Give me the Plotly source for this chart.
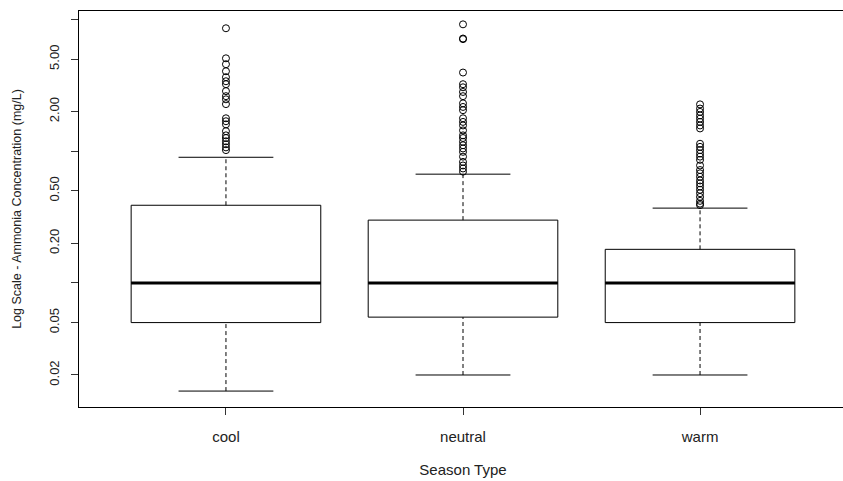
import plotly.graph_objects as go

# Ammonia concentration (mg/L) summary by season type
seasons = ["cool", "neutral", "warm"]
positions = [1, 2, 3]
q1 = [0.050, 0.055, 0.050]
median = [0.100, 0.100, 0.100]
q3 = [0.389, 0.300, 0.180]
whisker_low = [0.0151, 0.020, 0.020]
whisker_high = [0.90, 0.67, 0.37]

outliers_cool = [8.59, 5.08, 4.58, 4.05, 3.65, 3.40, 3.23, 2.86, 2.62, 2.48,
                 2.28, 1.78, 1.69, 1.60, 1.42, 1.32, 1.26, 1.19, 1.13, 1.07, 1.02]
outliers_neutral = [9.2, 7.18, 7.10, 3.96, 3.23, 3.06, 2.82, 2.62, 2.31, 2.17,
                    2.05, 1.78, 1.67, 1.57, 1.44, 1.32, 1.26, 1.18, 1.11, 1.05,
                    0.99, 0.91, 0.83, 0.78, 0.74, 0.70]
outliers_warm = [2.27, 2.11, 1.99, 1.87, 1.77, 1.67, 1.57, 1.49, 1.14, 1.08,
                 1.02, 0.96, 0.91, 0.86, 0.78, 0.72, 0.68, 0.64, 0.60, 0.57,
                 0.54, 0.51, 0.48, 0.45, 0.42, 0.40, 0.39]
outliers = [outliers_cool, outliers_neutral, outliers_warm]

y_tickvals = [0.02, 0.05, 0.1, 0.2, 0.5, 1, 2, 5, 10]
y_ticktext = ["0.02", "0.05", "", "0.20", "0.50", "", "2.00", "5.00", ""]

BOX_W = 0.8
CAP_W = 0.4
INK = "#000000"
TEXT = "#222222"

fig = go.Figure()

for i, pos in enumerate(positions):
    # box body (no plotly whiskers; those are drawn dashed below)
    fig.add_trace(go.Box(
        x=[pos], q1=[q1[i]], median=[median[i]], q3=[q3[i]],
        lowerfence=[q1[i]], upperfence=[q3[i]],
        width=BOX_W, whiskerwidth=0, fillcolor="white",
        line=dict(color=INK, width=1), boxpoints=False,
        hoverinfo="skip", showlegend=False,
    ))
    # thick median bar
    fig.add_trace(go.Scatter(
        x=[pos - BOX_W / 2, pos + BOX_W / 2], y=[median[i], median[i]],
        mode="lines", line=dict(color=INK, width=3),
        hoverinfo="skip", showlegend=False,
    ))
    # dashed whiskers
    for lo, hi in ((whisker_low[i], q1[i]), (q3[i], whisker_high[i])):
        fig.add_trace(go.Scatter(
            x=[pos, pos], y=[lo, hi], mode="lines",
            line=dict(color=INK, width=1, dash="4px,3px"),
            hoverinfo="skip", showlegend=False,
        ))
    # whisker caps
    for w in (whisker_low[i], whisker_high[i]):
        fig.add_trace(go.Scatter(
            x=[pos - CAP_W / 2, pos + CAP_W / 2], y=[w, w], mode="lines",
            line=dict(color=INK, width=1),
            hoverinfo="skip", showlegend=False,
        ))
    # outlying observations
    fig.add_trace(go.Scatter(
        x=[pos] * len(outliers[i]), y=outliers[i], mode="markers",
        marker=dict(symbol="circle-open", size=7, color=INK,
                    line=dict(color=INK, width=1)),
        showlegend=False,
    ))

fig.update_layout(
    width=847, height=481,
    margin=dict(l=79, r=0, t=11, b=74),
    plot_bgcolor="white", paper_bgcolor="white",
    font=dict(family="Liberation Sans, Arial, sans-serif", size=12, color=TEXT),
)

fig.update_xaxes(
    range=[0.38, 3.62],
    tickmode="array", tickvals=positions, ticktext=seasons,
    tickfont=dict(size=15),
    ticks="outside", ticklen=7, tickcolor="#333333", tickwidth=1,
    ticklabelstandoff=9,
    showline=True, linecolor=INK, linewidth=1, mirror=True,
    showgrid=False, zeroline=False,
    title=dict(text="Season Type", standoff=20, font=dict(size=15, color=TEXT)),
)

fig.update_yaxes(
    type="log", range=[-1.942, 1.065],
    tickmode="array", tickvals=y_tickvals, ticktext=y_ticktext,
    tickangle=-90, tickfont=dict(size=13),
    ticks="outside", ticklen=7, tickcolor="#333333", tickwidth=1,
    ticklabelstandoff=7,
    showline=True, linecolor=INK, linewidth=1, mirror=True,
    showgrid=False, zeroline=False,
    title=dict(text="Log Scale - Ammonia Concentration (mg/L)", standoff=22,
               font=dict(size=12.5, color=TEXT)),
)

fig.write_html("out.html")
